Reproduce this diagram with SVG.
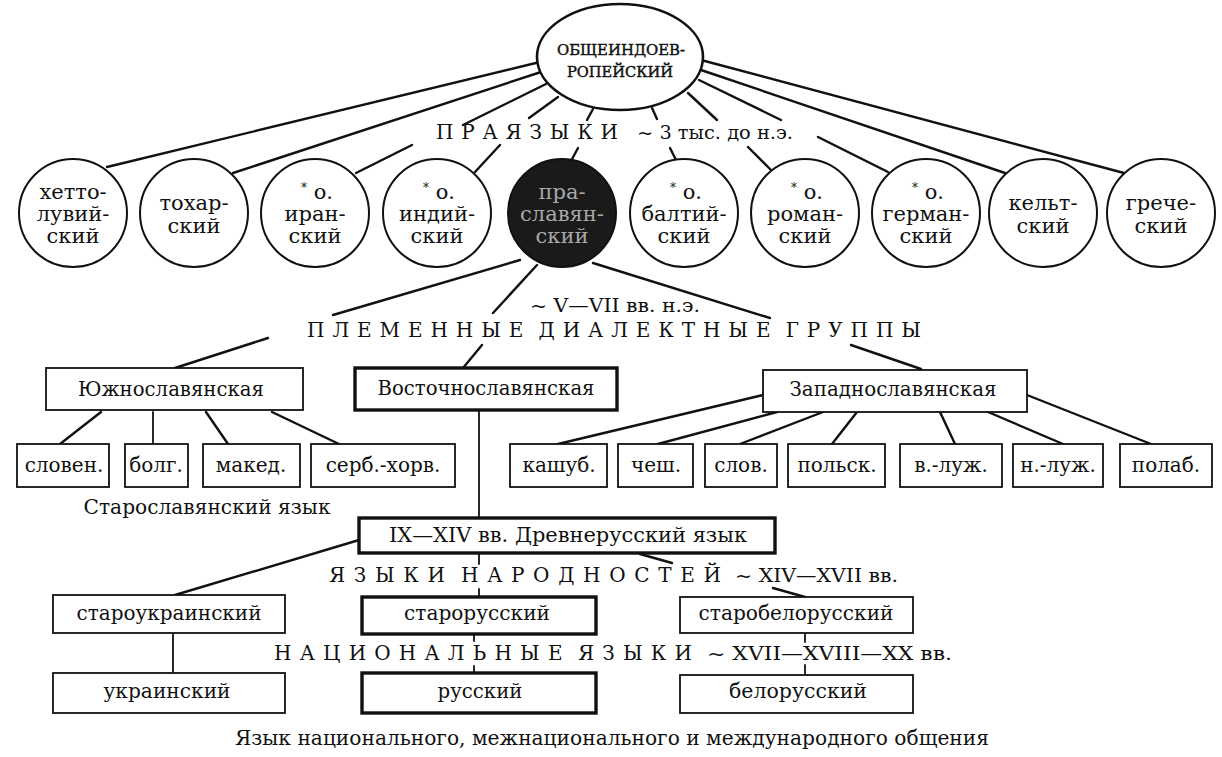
<svg xmlns="http://www.w3.org/2000/svg" width="1222" height="757" viewBox="0 0 1222 757">
<style>
text{font-family:"DejaVu Serif","Liberation Serif",serif;fill:#111;}
.c{text-anchor:middle;font-size:21px;}
.bt{text-anchor:middle;font-size:20px;}
.hd{font-size:20px;white-space:pre;}
.sm{font-size:18px;}
.ell{fill:#fff;stroke:#111;stroke-width:2.6;}
.cir{fill:#fff;stroke:#111;stroke-width:2;}
.dark{fill:#1a1a1a;stroke:#111;stroke-width:2;}
.thin{fill:#fff;stroke:#111;stroke-width:1.8;}
.thick{fill:#fff;stroke:#111;stroke-width:3.4;}
.con line{stroke:#111;stroke-width:2.4;stroke-linecap:round;}
.con .v{stroke-width:1.8;}
.dt{fill:#a8a8a8;}
.tt{text-anchor:middle;font-size:15px;stroke:#111;stroke-width:0.45;}
</style>
<rect width="1222" height="757" fill="#fff"/>
<g id="connectors" class="con">
<line x1="540" y1="62" x2="107" y2="167"/>
<line x1="541" y1="72" x2="233" y2="173"/>
<line x1="546" y1="84" x2="463" y2="125"/>
<line x1="412" y1="145" x2="356" y2="173"/>
<line x1="558" y1="97" x2="529" y2="118"/>
<line x1="500" y1="145" x2="475" y2="172"/>
<line x1="593" y1="109" x2="587" y2="120"/>
<line x1="578" y1="148" x2="571" y2="161"/>
<line x1="652" y1="108" x2="657" y2="119"/>
<line x1="670" y1="148" x2="677" y2="162"/>
<line x1="688" y1="93" x2="717" y2="120"/>
<line x1="748" y1="147" x2="771" y2="170"/>
<line x1="699" y1="80" x2="781" y2="120"/>
<line x1="818" y1="137" x2="888" y2="172"/>
<line x1="701" y1="70" x2="1005" y2="173"/>
<line x1="701" y1="60" x2="1124" y2="173"/>
<line x1="520" y1="260" x2="333" y2="315"/>
<line x1="268" y1="338" x2="175" y2="368"/>
<line x1="537" y1="265" x2="493" y2="313"/>
<line x1="482" y1="345" x2="463" y2="368"/>
<line x1="593" y1="263" x2="770" y2="318"/>
<line x1="851" y1="345" x2="921" y2="369"/>
<line x1="101" y1="412" x2="60" y2="444"/>
<line class="v" x1="153" y1="412" x2="153" y2="444"/>
<line x1="206" y1="412" x2="228" y2="444"/>
<line x1="272" y1="412" x2="339" y2="444"/>
<line class="v" x1="479" y1="410" x2="479" y2="518"/>
<line x1="763" y1="395" x2="558" y2="444"/>
<line x1="777" y1="412" x2="658" y2="444"/>
<line x1="823" y1="412" x2="740" y2="444"/>
<line x1="857" y1="412" x2="832" y2="444"/>
<line x1="940" y1="412" x2="955" y2="444"/>
<line x1="988" y1="412" x2="1063" y2="444"/>
<line x1="1027" y1="395" x2="1151" y2="444"/>
<line x1="359" y1="540" x2="175" y2="595"/>
<line class="v" x1="479" y1="553" x2="479" y2="564"/>
<line class="v" x1="479" y1="589" x2="479" y2="597"/>
<line x1="640" y1="554" x2="672" y2="563"/>
<line x1="773" y1="588" x2="805" y2="597"/>
<line class="v" x1="173" y1="633" x2="173" y2="673"/>
<line class="v" x1="474" y1="634" x2="474" y2="641"/>
<line class="v" x1="474" y1="666" x2="474" y2="673"/>
<line class="v" x1="805" y1="633" x2="805" y2="642"/>
<line class="v" x1="805" y1="665" x2="805" y2="675"/>
</g>
<g id="n-pie"><ellipse class="ell" cx="620" cy="57" rx="83" ry="53"/>
<text class="tt" x="621" y="55" textLength="128" lengthAdjust="spacingAndGlyphs">ОБЩЕИНДОЕВ-</text>
<text class="tt" x="620" y="77" textLength="106" lengthAdjust="spacingAndGlyphs">РОПЕЙСКИЙ</text></g>
<g id="lbl-praiaz"><text class="hd" x="436" y="139" textLength="182" lengthAdjust="spacing">П Р А Я З Ы К И</text>
<text class="sm" x="637" y="139" textLength="156" lengthAdjust="spacingAndGlyphs">~ 3 тыс. до н.э.</text></g>
<g id="n-hett"><circle class="cir" cx="73" cy="213" r="54"/><text class="c" x="73" y="199">хетто-</text><text class="c" x="73" y="221">лувий-</text><text class="c" x="73" y="243">ский</text></g>
<g id="n-tohar"><circle class="cir" cx="194" cy="213" r="54"/><text class="c" x="194" y="210">тохар-</text><text class="c" x="194" y="233">ский</text></g>
<g id="n-iran"><circle class="cir" cx="315" cy="213" r="54"/><text class="c" x="317" y="199"><tspan font-size="12" dy="-7">*</tspan><tspan dy="7"> о.</tspan></text><text class="c" x="315" y="221">иран-</text><text class="c" x="315" y="243">ский</text></g>
<g id="n-ind"><circle class="cir" cx="437" cy="213" r="54"/><text class="c" x="439" y="199"><tspan font-size="12" dy="-7">*</tspan><tspan dy="7"> о.</tspan></text><text class="c" x="437" y="221">индий-</text><text class="c" x="437" y="243">ский</text></g>
<g id="n-praslav"><circle class="dark" cx="562" cy="213" r="54"/><text class="c dt" x="562" y="199">пра-</text><text class="c dt" x="562" y="221">славян-</text><text class="c dt" x="562" y="243">ский</text></g>
<g id="n-balt"><circle class="cir" cx="684" cy="213" r="54"/><text class="c" x="686" y="199"><tspan font-size="12" dy="-7">*</tspan><tspan dy="7"> о.</tspan></text><text class="c" x="684" y="221">балтий-</text><text class="c" x="684" y="243">ский</text></g>
<g id="n-roman"><circle class="cir" cx="805" cy="213" r="54"/><text class="c" x="807" y="199"><tspan font-size="12" dy="-7">*</tspan><tspan dy="7"> о.</tspan></text><text class="c" x="805" y="221">роман-</text><text class="c" x="805" y="243">ский</text></g>
<g id="n-german"><circle class="cir" cx="926" cy="213" r="54"/><text class="c" x="928" y="199"><tspan font-size="12" dy="-7">*</tspan><tspan dy="7"> о.</tspan></text><text class="c" x="926" y="221">герман-</text><text class="c" x="926" y="243">ский</text></g>
<g id="n-kelt"><circle class="cir" cx="1043" cy="213" r="54"/><text class="c" x="1043" y="210">кельт-</text><text class="c" x="1043" y="233">ский</text></g>
<g id="n-grech"><circle class="cir" cx="1161" cy="213" r="54"/><text class="c" x="1161" y="210">грече-</text><text class="c" x="1161" y="233">ский</text></g>
<g id="lbl-plem"><text class="sm" x="530" y="312" textLength="170" lengthAdjust="spacingAndGlyphs">~ V—VII вв. н.э.</text>
<text class="hd" x="307" y="337" textLength="614" lengthAdjust="spacing">П Л Е М Е Н Н Ы Е  Д И А Л Е К Т Н Ы Е  Г Р У П П Ы</text></g>
<g id="n-south"><rect class="thin" x="46" y="368" width="257" height="42"/><text class="bt" x="171" y="396" textLength="186" lengthAdjust="spacingAndGlyphs">Южнославянская</text></g>
<g id="n-east"><rect class="thick" x="355" y="368" width="262" height="42"/><text class="bt" x="486" y="395" textLength="217" lengthAdjust="spacingAndGlyphs">Восточнославянская</text></g>
<g id="n-west"><rect class="thin" x="763" y="370" width="264" height="42"/><text class="bt" x="893" y="396" textLength="207" lengthAdjust="spacingAndGlyphs">Западнославянская</text></g>
<g id="n-sloven"><rect class="thin" x="17" y="444" width="92" height="43"/><text class="bt" x="64" y="472">словен.</text></g>
<g id="n-bolg"><rect class="thin" x="125" y="444" width="63" height="43"/><text class="bt" x="156" y="472">болг.</text></g>
<g id="n-maked"><rect class="thin" x="203" y="444" width="97" height="43"/><text class="bt" x="251" y="472">макед.</text></g>
<g id="n-serb"><rect class="thin" x="311" y="444" width="144" height="43"/><text class="bt" x="383" y="472">серб.-хорв.</text></g>
<g id="n-kash"><rect class="thin" x="510" y="444" width="97" height="43"/><text class="bt" x="559" y="472">кашуб.</text></g>
<g id="n-chesh"><rect class="thin" x="618" y="444" width="75" height="43"/><text class="bt" x="656" y="472">чеш.</text></g>
<g id="n-slov"><rect class="thin" x="705" y="444" width="72" height="43"/><text class="bt" x="741" y="472">слов.</text></g>
<g id="n-pol"><rect class="thin" x="788" y="444" width="97" height="43"/><text class="bt" x="837" y="472">польск.</text></g>
<g id="n-vluzh"><rect class="thin" x="900" y="444" width="102" height="43"/><text class="bt" x="951" y="472">в.-луж.</text></g>
<g id="n-nluzh"><rect class="thin" x="1013" y="444" width="90" height="43"/><text class="bt" x="1058" y="472">н.-луж.</text></g>
<g id="n-polab"><rect class="thin" x="1120" y="444" width="92" height="43"/><text class="bt" x="1166" y="472">полаб.</text></g>
<g id="lbl-staroslav"><text class="bt" x="207" y="514" textLength="247" lengthAdjust="spacingAndGlyphs">Старославянский язык</text></g>
<g id="n-drevnerus"><rect class="thick" x="359" y="518" width="416" height="35"/><text class="bt" x="568" y="542" textLength="358" lengthAdjust="spacingAndGlyphs">IX—XIV вв. Древнерусский язык</text></g>
<g id="lbl-narod"><text class="hd" x="329" y="582" textLength="392" lengthAdjust="spacing">Я З Ы К И  Н А Р О Д Н О С Т Е Й</text>
<text class="sm" x="735" y="582" textLength="163" lengthAdjust="spacingAndGlyphs">~ XIV—XVII вв.</text></g>
<g id="n-staroukr"><rect class="thin" x="53" y="595" width="232" height="38"/><text class="bt" x="169" y="620" textLength="185" lengthAdjust="spacingAndGlyphs">староукраинский</text></g>
<g id="n-starorus"><rect class="thick" x="362" y="597" width="234" height="37"/><text class="bt" x="477" y="620" textLength="146" lengthAdjust="spacingAndGlyphs">старорусский</text></g>
<g id="n-starobel"><rect class="thin" x="680" y="597" width="233" height="36"/><text class="bt" x="796" y="620" textLength="195" lengthAdjust="spacingAndGlyphs">старобелорусский</text></g>
<g id="lbl-nac"><text class="hd" x="274" y="660" textLength="418" lengthAdjust="spacing">Н А Ц И О Н А Л Ь Н Ы Е  Я З Ы К И</text>
<text class="sm" x="707" y="660" textLength="245" lengthAdjust="spacingAndGlyphs">~  XVII—XVIII—XX вв.</text></g>
<g id="n-ukr"><rect class="thin" x="53" y="673" width="232" height="40"/><text class="bt" x="167" y="698" textLength="127" lengthAdjust="spacingAndGlyphs">украинский</text></g>
<g id="n-rus"><rect class="thick" x="362" y="673" width="234" height="40"/><text class="bt" x="480" y="698" textLength="85" lengthAdjust="spacingAndGlyphs">русский</text></g>
<g id="n-bel"><rect class="thin" x="680" y="675" width="233" height="38"/><text class="bt" x="798" y="698" textLength="138" lengthAdjust="spacingAndGlyphs">белорусский</text></g>
<g id="lbl-bottom"><text class="bt" x="612" y="745" textLength="754" lengthAdjust="spacingAndGlyphs">Язык национального, межнационального и международного общения</text></g>
</svg>
